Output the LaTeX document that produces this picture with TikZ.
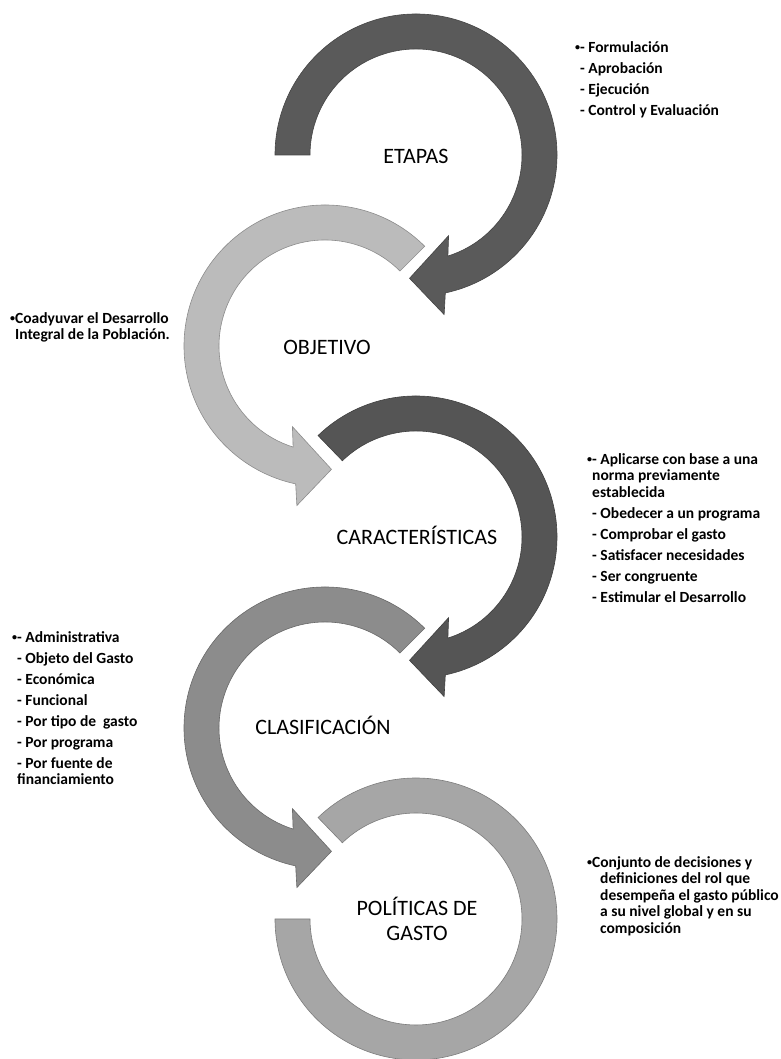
\documentclass[tikz,border=0pt]{standalone}
\usepackage{fontspec}
\setmainfont{Carlito}
\usepackage{tikz}

\definecolor{ringone}{HTML}{5A5A5A}
\definecolor{ringtwo}{HTML}{BBBBBB}
\definecolor{ringthree}{HTML}{555555}
\definecolor{ringfour}{HTML}{8C8C8C}
\definecolor{ringfive}{HTML}{A6A6A6}

\newcommand{\topstrut}{\rule{0pt}{13pt}}
\newcommand{\notebullet}{\raisebox{1.2pt}{\fontsize{10}{10}\selectfont•}}

\begin{document}
\begin{tikzpicture}[x=1pt, y=1pt,
    ring/.style={draw=#1!75!black, line width=0.6pt, fill=#1},
    title/.style={font=\fontsize{22}{25}\selectfont, align=center, inner sep=0pt},
    note/.style={font=\bfseries\fontsize{15.5}{16.5}\selectfont, align=left, anchor=north west, inner sep=0pt}]
    \useasboundingbox (0,0) rectangle (780,1059);
    % The five circular arrows, top to bottom.
    \begin{scope}[shift={(416,904)}]
        \draw[ring=ringone] (180:141) arc[start angle=180, end angle=-78, radius=141] -- (-80:162) -- (-93:123.5) -- (-68:87) -- (-72.5:106) arc[start angle=-72.5, end angle=180, radius=106] -- cycle;
    \end{scope}
    \begin{scope}[shift={(325,713)}]
        \draw[ring=ringtwo] (45:141) arc[start angle=45, end angle=258, radius=141] -- (260:162) -- (273:123.5) -- (248:87) -- (252.5:106) arc[start angle=252.5, end angle=45, radius=106] -- cycle;
    \end{scope}
    \begin{scope}[shift={(416,522)}]
        \draw[ring=ringthree] (134:141) arc[start angle=134, end angle=-78, radius=141] -- (-80:162) -- (-93:123.5) -- (-68:87) -- (-72.5:106) arc[start angle=-72.5, end angle=134, radius=106] -- cycle;
    \end{scope}
    \begin{scope}[shift={(325,331)}]
        \draw[ring=ringfour] (45:141) arc[start angle=45, end angle=258, radius=141] -- (260:162) -- (273:123.5) -- (248:87) -- (252.5:106) arc[start angle=252.5, end angle=45, radius=106] -- cycle;
    \end{scope}
    \begin{scope}[shift={(416,140)}]
        \draw[ring=ringfive] (134:141) arc[start angle=134, end angle=-180, radius=141] -- (-180:106) arc[start angle=-180, end angle=134, radius=106] -- cycle;
    \end{scope}
    % Below nodes are the titles inside the rings.
        \node[title, anchor=base] (etapas) at (416,895) {ETAPAS};
        \node[title, anchor=base] (objetivo) at (327,704) {OBJETIVO};
        \node[title, anchor=base] (caracteristicas) at (417,514) {CARACTERÍSTICAS};
        \node[title, anchor=base] (clasificacion) at (323,324) {CLASIFICACIÓN};
        \node[title] (politicas) at (417,140) {POLÍTICAS DE\\GASTO};
    % These are the side notes.
        \node[note] (etapasnote) at (580,1020) {\topstrut\llap{\notebullet}- Formulación\\[4.5pt]- Aprobación\\[4.5pt]- Ejecución\\[4.5pt]- Control y Evaluación};
        \node[note] (objetivonote) at (15,749) {\topstrut\llap{\notebullet}Coadyuvar el Desarrollo\\Integral de la Población.};
        \node[note] (caracnote) at (592,608) {\topstrut\llap{\notebullet}- Aplicarse con base a una\\norma previamente\\establecida\\[4.5pt]- Obedecer a un programa\\[4.5pt]- Comprobar el gasto\\[4.5pt]- Satisfacer necesidades\\[4.5pt]- Ser congruente\\[4.5pt]- Estimular el Desarrollo};
        \node[note] (clasifnote) at (17,430) {\topstrut\llap{\notebullet}- Administrativa\\[4.5pt]- Objeto del Gasto\\[4.5pt]- Económica\\[4.5pt]- Funcional\\[4.5pt]- Por tipo de\ \ gasto\\[4.5pt]- Por programa\\[4.5pt]- Por fuente de\\financiamiento};
        \node[note] (politicasnote) at (600,205) {\topstrut\hspace*{-8pt}\llap{\notebullet}Conjunto de decisiones y\\definiciones del rol que\\desempeña el gasto público\\a su nivel global y en su\\composición};
\end{tikzpicture}
\end{document}
